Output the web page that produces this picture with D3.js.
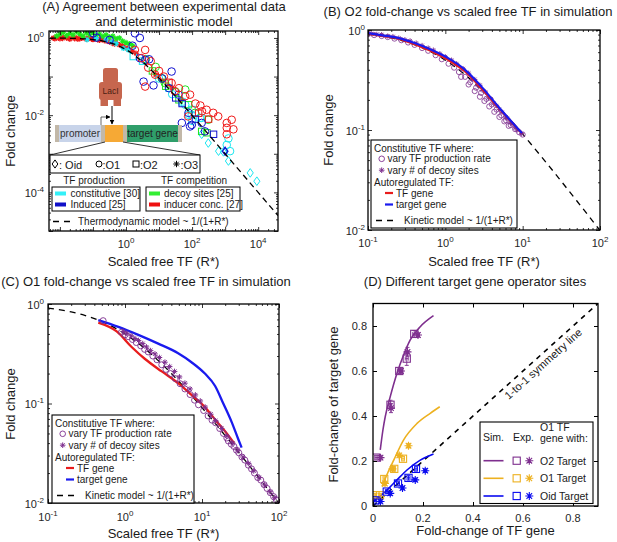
<!DOCTYPE html>
<html>
<head>
<meta charset="utf-8">
<script src="https://cdn.jsdelivr.net/npm/d3@7/dist/d3.min.js"></script>
<style>
html,body{margin:0;padding:0;background:#fff;}
svg{display:block;}
</style>
</head>
<body>
<svg id="chart" width="617" height="542"></svg>
<script>
// ================= DATA =================
// Panel A : experimental data  [R*, fold change]
const aRedStar = [[0.0063,1.0],[0.007,0.95],[0.0079,1.07],[0.009,1.0],[0.01,0.955],[0.012,0.97],[0.0126,1.05],[0.0158,1.0],[0.018,0.98],[0.02,0.93],[0.025,1.05],[0.028,0.96],[0.0316,1.0],[0.035,0.93],[0.04,0.955],[0.045,0.98],[0.05,1.02],[0.063,0.93],[0.07,0.97],[0.079,1.0],[0.09,0.95],[0.1,0.91],[0.11,0.98],[0.126,0.955],[0.14,0.9],[0.158,0.87],[0.18,0.93],[0.2,0.91],[0.22,0.86],[0.25,0.83],[0.28,0.85],[0.316,0.79],[0.35,0.8],[0.4,0.72],[0.45,0.7],[0.5,0.76],[0.63,0.66],[0.79,0.63],[1.0,0.55],[1.26,0.5],[1.58,0.44],[2.0,0.4],[7.9,0.11],[12.6,0.079],[25,0.05],[50,0.025]];
const aRedCircle = [[1.86,0.49],[3.8,0.49],[2.95,0.30],[4.7,0.17],[3.8,0.055],[7.6,0.112],[24,0.068],[30,0.042],[62,0.031],[87,0.034],[275,0.0138],[437,0.0115],[617,0.0093],[1120,0.0063],[1580,0.0076],[1120,0.0047],[1780,0.0043],[1120,0.0032],[76,0.0093],[10,0.14],[14,0.1],[40,0.05],[126,0.02],[178,0.0178],[5.6,0.25],[200,0.0126]];
const aRedSquare = [[20,0.071],[158,0.0112],[316,0.0079]];
const aBlueCircle = [[0.102,1.32],[0.129,1.02],[1.86,1.32],[2.63,1.0],[3.8,0.27],[2.63,0.30],[3.4,0.074],[6.8,0.059],[24,0.135],[39,0.034],[78,0.0115],[98,0.0056],[195,0.0063],[245,0.0038],[49,0.0063],[87,0.0051],[0.32,0.89],[1.58,0.63],[5.0,0.28],[12.6,0.089],[20,0.05]];
const aBlueSquare = [[447,0.0032],[32,0.028],[126,0.0079],[50,0.02]];
const aBlueDiamond = [[1000,0.00117]];
const aGreenStar = [[0.0079,1.12],[0.01,1.26],[0.0126,1.41],[0.0158,1.15],[0.02,1.32],[0.025,1.2],[0.0316,1.45],[0.04,1.26],[0.05,1.12],[0.063,1.35],[0.079,1.2],[0.1,1.38],[0.126,1.15],[0.158,1.26],[0.2,1.1],[0.25,1.2],[0.316,1.05],[0.4,1.12],[0.5,0.955],[0.63,1.0],[0.79,0.83],[1.0,0.76],[1.26,0.71],[1.58,0.63]];
const aGreenCircle = [[12,0.091],[15,0.068],[62,0.046],[123,0.0115],[309,0.0076],[7.9,0.178],[32,0.04],[4,0.28]];
const aGreenSquare = [[78,0.0186],[16,0.056],[195,0.0038],[282,0.0035],[40,0.025],[6.3,0.14]];
const aCyanStar = [[0.37,0.79],[0.83,0.54],[1.17,0.49],[0.25,0.89],[0.5,0.71],[0.126,0.955],[0.066,0.9]];
const aCyanSquare = [[1.66,0.33],[3.16,0.25],[20,0.05],[50,0.022],[100,0.014]];
const aCyanCircle = [[62,0.0186],[98,0.0102],[195,0.0085],[78,0.0102],[174,0.0085],[1120,0.0017],[1410,0.00117],[10,0.089],[25,0.035],[100,0.0071],[1260,0.0025]];
const aCyanDiamond = [[195,0.0032],[309,0.0019],[631,0.00117],[1260,0.00065],[5750,0.00032],[9120,0.000195],[890,0.00112]];

// model curve ~ 1/(1+R*)
const modelR  = [0.005,0.01,0.02,0.05,0.1,0.2,0.3,0.5,0.7,1,1.5,2,3,5,7,10,20,50,100,300,1000,3000,10000,40000];
const modelFC = [0.995,0.99,0.98,0.952,0.909,0.833,0.769,0.667,0.588,0.5,0.4,0.333,0.25,0.167,0.125,0.0909,0.0476,0.0196,0.0099,0.00332,0.000999,0.000333,0.0001,0.000025];

// Panel B : O2 simulation
const bCircle = [[0.1,0.91],[0.12,0.89],[0.15,0.87],[0.18,0.85],[0.22,0.82],[0.27,0.79],[0.33,0.75],[0.4,0.71],[0.5,0.66],[0.6,0.62],[0.75,0.56],[0.9,0.51],[1.1,0.46],[1.3,0.42],[1.5,0.38],[1.8,0.34],[2.1,0.30],[2.5,0.265],[2.9,0.235],[3.4,0.205],[4.0,0.18],[4.6,0.16],[5.3,0.14],[6.1,0.125],[7.0,0.112],[8.0,0.102],[9.0,0.095],[10,0.09],[1.6,0.34],[2.0,0.285],[2.4,0.245],[2.8,0.215],[3.2,0.195],[3.7,0.172],[4.3,0.152],[5.0,0.135],[5.8,0.122],[6.6,0.11]];
const bStar = [[0.1,0.93],[0.11,0.92],[0.13,0.905],[0.15,0.9],[0.18,0.87],[0.21,0.86],[0.25,0.83],[0.3,0.8],[0.35,0.78],[0.42,0.74],[0.5,0.7],[0.6,0.66],[0.7,0.63],[0.85,0.58],[1.0,0.54],[1.2,0.5],[1.4,0.46],[1.7,0.41],[2.0,0.37],[2.4,0.32],[2.8,0.28],[3.3,0.24],[3.9,0.205],[4.6,0.175],[5.4,0.15],[6.3,0.13],[7.3,0.115],[8.5,0.1],[9.7,0.092],[2.2,0.32],[2.6,0.28],[3.0,0.25],[3.6,0.21],[4.2,0.185],[5.0,0.16],[6.0,0.135],[7.0,0.118],[8.0,0.105]];
const bTFgene = [[0.1,0.92],[0.16,0.87],[0.25,0.82],[0.4,0.72],[0.67,0.61],[1.1,0.5],[1.8,0.385],[2.95,0.26],[4.85,0.168],[7.2,0.12],[9.8,0.092]];
const bTarget = [[0.1,0.93],[0.16,0.88],[0.25,0.83],[0.4,0.74],[0.67,0.63],[1.1,0.52],[1.8,0.40],[2.95,0.27],[4.85,0.171],[7.2,0.121],[9.8,0.093]];

// Panel C : O1 simulation
const cCircle = [[0.52,0.68],[0.9,0.52],[1.0,0.49],[1.1,0.47],[1.25,0.44],[1.4,0.41],[1.6,0.38],[1.8,0.35],[2.0,0.33],[2.3,0.3],[2.6,0.275],[3.0,0.245],[3.4,0.22],[3.9,0.2],[4.5,0.178],[5.2,0.158],[6.0,0.14],[7.0,0.123],[8.0,0.108],[9.0,0.097],[10.5,0.085],[12,0.075],[13.5,0.068],[15,0.064],[17,0.056],[19,0.05],[21,0.045],[22,0.042],[24,0.039],[26,0.037],[28,0.034],[30,0.032],[33,0.029],[36,0.027],[40,0.024],[44,0.022],[48,0.02],[53,0.018],[58,0.017],[64,0.0153],[70,0.014],[77,0.0127],[85,0.0116],[92,0.0108]];
const cStar = [[0.95,0.53],[1.05,0.51],[1.2,0.48],[1.35,0.45],[1.5,0.43],[1.7,0.4],[1.9,0.37],[2.15,0.34],[2.45,0.315],[2.8,0.29],[3.3,0.26],[3.8,0.235],[4.4,0.21],[5.1,0.185],[6.0,0.16],[7.0,0.14],[8.2,0.122],[9.5,0.106],[11,0.092],[13,0.078],[15,0.067],[18,0.056],[21,0.047],[25,0.04],[29,0.034],[34,0.029],[40,0.025],[47,0.021],[55,0.018],[65,0.0152],[76,0.013],[88,0.0113]];
const cTFgene = [[0.45,0.65],[0.78,0.53],[1.22,0.37],[1.82,0.28],[3.0,0.21],[4.9,0.16],[7.3,0.122],[10.9,0.092],[15,0.068],[21,0.05],[26,0.04]];
const cTarget = [[0.45,0.69],[0.82,0.59],[1.49,0.49],[2.7,0.40],[4.9,0.32],[7.3,0.26],[10.9,0.20],[14.8,0.15],[18.9,0.10],[24.3,0.065],[29.5,0.044],[32.7,0.036]];

// Panel D : target vs TF gene  [x, y, xErr, yErr]
const dO2Sim  = [[0.029,0.249],[0.04,0.34],[0.049,0.397],[0.069,0.486],[0.096,0.59],[0.122,0.67],[0.149,0.738],[0.189,0.797],[0.242,0.846]];
const dO1Sim  = [[0.036,0.086],[0.06,0.15],[0.083,0.204],[0.122,0.293],[0.176,0.367],[0.229,0.412],[0.267,0.441]];
const dOidSim = [[0.0,0.02],[0.03,0.045],[0.056,0.071],[0.096,0.116],[0.136,0.16],[0.189,0.204],[0.242,0.231]];
const dO2Sq  = [[0.012,0.215,0.005,0.01],[0.07,0.45,0.005,0.02],[0.105,0.6,0.006,0.01],[0.135,0.655,0.006,0.03],[0.165,0.765,0.006,0.015]];
const dO2St  = [[0.03,0.215,0.006,0.01],[0.072,0.435,0.005,0.02],[0.112,0.6,0.006,0.01],[0.138,0.685,0.006,0.02],[0.18,0.76,0.006,0.01]];
const dO1Sq  = [[0.01,0.048,0.005,0.008],[0.028,0.048,0.005,0.008],[0.045,0.12,0.005,0.01],[0.085,0.165,0.005,0.01],[0.12,0.21,0.006,0.01]];
const dO1St  = [[0.048,0.1,0.005,0.01],[0.078,0.165,0.005,0.01],[0.105,0.225,0.006,0.01],[0.142,0.268,0.006,0.01]];
const dOidSq = [[0.01,0.025,0.005,0.006],[0.055,0.064,0.005,0.008],[0.1,0.1,0.006,0.01],[0.142,0.125,0.006,0.01],[0.172,0.165,0.006,0.01]];
const dOidSt = [[0.03,0.02,0.005,0.006],[0.069,0.056,0.005,0.008],[0.118,0.08,0.006,0.008],[0.169,0.116,0.006,0.008],[0.209,0.157,0.006,0.008]];
const oneToOne = [[0,0],[0.9,0.9]];

// tick labels
const aXExp = [0,2,4], aYExp = [0,-2,-4];
const bcXExp = [-1,0,1,2], bcYExp = [0,-1,-2];
const dTicks = [0,0.2,0.4,0.6,0.8];

// ================= DRAWING =================
const FONT = "'Liberation Sans', Arial, Helvetica, sans-serif";
const svg = d3.select("#chart").attr("font-family", FONT);
svg.append("rect").attr("width",617).attr("height",542).attr("fill","#fff");
const defs = svg.append("defs");
const PURPLE = "#7e2f8e", ORANGE = "#edb120";
const TXT = "#1a1a1a";

function clip(id, x, y, w, h){
  defs.append("clipPath").attr("id",id).append("rect").attr("x",x).attr("y",y).attr("width",w).attr("height",h);
}
function mark(g, type, cx, cy, s, color, sw){
  sw = sw || 1;
  let el;
  if (type === "circle") el = g.append("circle").attr("cx",cx).attr("cy",cy).attr("r",s);
  else if (type === "square") el = g.append("rect").attr("x",cx-s).attr("y",cy-s).attr("width",2*s).attr("height",2*s);
  else if (type === "diamond") el = g.append("path").attr("d",`M${cx},${cy-s*1.2}L${cx+s*0.85},${cy}L${cx},${cy+s*1.2}L${cx-s*0.85},${cy}Z`);
  else { const d = s*0.7; el = g.append("path").attr("d",`M${cx-s},${cy}H${cx+s}M${cx},${cy-s}V${cy+s}M${cx-d},${cy-d}L${cx+d},${cy+d}M${cx-d},${cy+d}L${cx+d},${cy-d}`); }
  el.attr("fill","none").attr("stroke",color).attr("stroke-width",sw);
  return el;
}
function logTicks(sc, ks){
  const [a,b] = sc.domain(); const out=[];
  for (let e=Math.floor(Math.log10(a)); e<=Math.ceil(Math.log10(b)); e++)
    for (const k of ks){ const v=k*Math.pow(10,e); if (v>=a*0.999 && v<=b*1.001) out.push(v); }
  return out;
}
function frame(g, x, y, xMaj, xMin, yMaj, yMin){
  const [x0,x1] = x.range(), [yb,yt] = y.range();
  const ax = (fn, sc, vals, len, tx, ty) => {
    const s = g.append("g").attr("transform",`translate(${tx},${ty})`)
      .call(fn(sc).tickValues(vals).tickSize(len).tickSizeOuter(0).tickFormat(""));
    s.select(".domain").remove();
    s.selectAll("line").attr("stroke","#000").attr("stroke-width",0.8);
  };
  [[xMaj,4],[xMin,2]].forEach(([v,l])=>{ ax(d3.axisBottom,x,v,-l,0,yb); ax(d3.axisTop,x,v,-l,0,yt); });
  [[yMaj,4],[yMin,2]].forEach(([v,l])=>{ ax(d3.axisLeft,y,v,-l,x0,0); ax(d3.axisRight,y,v,-l,x1,0); });
  g.append("rect").attr("x",x0).attr("y",yt).attr("width",x1-x0).attr("height",yb-yt)
    .attr("fill","none").attr("stroke","#000").attr("stroke-width",1.3);
}
function powLabel(g, px, py, e, anchor){
  const t = g.append("text").attr("x",px).attr("y",py).attr("text-anchor",anchor).attr("font-size",11).attr("fill","#262626");
  t.append("tspan").text("10");
  t.append("tspan").attr("dy",-5).attr("font-size",8).text(String(e));
}
function txt(g, x, y, s, size, anchor, extra){
  const t = g.append("text").attr("x",x).attr("y",y).attr("font-size",size).attr("text-anchor",anchor||"start").attr("fill",TXT).text(s);
  if (extra) t.attr("transform",extra);
  return t;
}
function vtxt(g, x, y, s, size){
  return g.append("text").attr("transform",`translate(${x},${y}) rotate(-90)`).attr("text-anchor","middle").attr("font-size",size).attr("fill",TXT).text(s);
}
const modelPts = modelR.map((r,i)=>[r, modelFC[i]]);

// ---------------- Panel A ----------------
{
  const g = svg.append("g");
  const x = d3.scaleLog().domain([Math.pow(10,-2.33), Math.pow(10,4.6)]).range([49,278]);
  const y = d3.scaleLog().domain([1e-5, Math.pow(10,0.18)]).range([231,31]);
  clip("clipA",49,31,229,200);
  const p = g.append("g").attr("clip-path","url(#clipA)");
  const draw = (arr, type, s, col, sw) => arr.forEach(d => mark(p, type, x(d[0]), y(d[1]), s, col, sw));
  const CY="#19e6f0", BL="#1010d0", GR="#1ee61e", RD="#f01818";
  draw(aRedStar,"star",2.8,RD,1.2);
  draw(aGreenStar,"star",2.8,GR,1.2);
  draw(aCyanStar,"star",2.8,CY,1.2);
  draw(aCyanSquare,"square",3.2,CY,1);
  draw(aCyanCircle,"circle",3.8,CY,1);
  draw(aCyanDiamond,"diamond",3.6,CY,1);
  draw(aGreenCircle,"circle",3.8,GR,1);
  draw(aGreenSquare,"square",3.2,GR,1);
  draw(aRedSquare,"square",3.2,RD,1);
  draw(aBlueSquare,"square",3.2,BL,1);
  draw(aBlueDiamond,"diamond",3.2,BL,1.4);
  draw(aBlueCircle,"circle",3.8,BL,1);
  draw(aRedCircle,"circle",3.8,RD,1);
  p.append("path").datum(modelPts)
    .attr("d", d3.line().x(d=>x(d[0])).y(d=>y(d[1])).curve(d3.curveMonotoneX))
    .attr("fill","none").attr("stroke","#000").attr("stroke-width",1.3).attr("stroke-dasharray","6,4");

  frame(g, x, y, logTicks(x,[1]), logTicks(x,[2,3,4,5,6,7,8,9]), logTicks(y,[1]), logTicks(y,[2,3,4,5,6,7,8,9]));
  aXExp.forEach(e => powLabel(g, x(Math.pow(10,e)), 248, e, "middle"));
  aYExp.forEach(e => powLabel(g, 44, y(Math.pow(10,e))+4.5, e, "end"));

  // schematic
  const L = "#c6664e";
  g.append("rect").attr("x",103).attr("y",68).attr("width",15).attr("height",15).attr("rx",2.5).attr("fill",L);
  g.append("rect").attr("x",99).attr("y",82).attr("width",23).attr("height",18).attr("rx",3).attr("fill",L);
  g.append("rect").attr("x",100.5).attr("y",99).attr("width",7.5).attr("height",7).attr("fill",L);
  g.append("rect").attr("x",113.5).attr("y",99).attr("width",7.5).attr("height",7).attr("fill",L);
  txt(g,110.5,94,"LacI",8.5,"middle").attr("fill","#4a1e12");
  defs.append("marker").attr("id","arr").attr("viewBox","0 0 10 10").attr("refX",9).attr("refY",5)
    .attr("markerWidth",5).attr("markerHeight",5).attr("orient","auto")
    .append("path").attr("d","M0,0L10,5L0,10Z").attr("fill","#000");
  g.append("line").attr("x1",112).attr("y1",106).attr("x2",112).attr("y2",124).attr("stroke","#000").attr("stroke-width",1).attr("marker-end","url(#arr)");
  g.append("rect").attr("x",55).attr("y",125).attr("width",127).attr("height",17).attr("fill","#c2b8a8");
  g.append("rect").attr("x",59).attr("y",125).attr("width",42).attr("height",17).attr("fill","#c8d4ea");
  g.append("rect").attr("x",105).attr("y",125).attr("width",18).attr("height",17).attr("fill","#f6a935");
  g.append("rect").attr("x",127).attr("y",125).attr("width",51).attr("height",17).attr("fill","#2f9e6a");
  txt(g,80,137,"promoter",10,"middle").attr("fill","#333");
  txt(g,152.5,137,"target gene",10,"middle").attr("fill","#222");
  g.append("path").attr("d","M101,125V117H110").attr("fill","none").attr("stroke","#555").attr("stroke-width",0.9).attr("marker-end","url(#arr)");
  g.append("path").attr("d","M105,142L50,155M123,142L200,155").attr("fill","none").attr("stroke","#333").attr("stroke-width",1);
  // operator legend box
  g.append("rect").attr("x",50).attr("y",155).attr("width",150).attr("height",18).attr("fill","#fff").attr("stroke","#000").attr("stroke-width",1);
  mark(g,"diamond",55,164,3.4,"#000",1); txt(g,59,168.5,": Oid",11);
  mark(g,"circle",99,164,3,"#000",1); txt(g,102.5,168.5,":O1",11);
  mark(g,"square",136,164,3,"#000",1); txt(g,140,168.5,":O2",11);
  mark(g,"star",176.5,164,3.2,"#000",1); txt(g,180.5,168.5,":O3",11);
  txt(g,94,184,"TF production",10,"middle");
  txt(g,194,184,"TF competition",10,"middle");
  g.append("rect").attr("x",52).attr("y",187).attr("width",88).attr("height",24).attr("fill","#fff").attr("stroke","#000").attr("stroke-width",1);
  g.append("rect").attr("x",146).attr("y",187).attr("width",94).attr("height",24).attr("fill","#fff").attr("stroke","#000").attr("stroke-width",1);
  const sw = (xx,yy,c) => g.append("rect").attr("x",xx).attr("y",yy-2).attr("width",11).attr("height",4).attr("fill",c);
  sw(55,193.5,"#33f0f8"); txt(g,70.5,197,"constitutive [30]",10);
  sw(55,204.5,"#1010c8"); txt(g,70.5,208,"Induced [25]",10);
  sw(149,193.5,"#33ee33"); txt(g,164,197,"decoy sites [25]",10);
  sw(149,204.5,"#ee1111"); txt(g,164,208,"inducer conc. [27]",10);
  g.append("line").attr("x1",53).attr("x2",74).attr("y1",221.5).attr("y2",221.5).attr("stroke","#000").attr("stroke-width",1.3).attr("stroke-dasharray","6,5");
  txt(g,78,225,"Thermodynamic model ~ 1/(1+R*)",10);

  txt(g,164,11,"(A) Agreement between experimental data",13,"middle");
  txt(g,164,25.5,"and deterministic model",13,"middle");
  vtxt(g,15,131,"Fold change",13);
  txt(g,163.5,266,"Scaled free TF (R*)",13,"middle");
}

function simLegend(g, bx, by, w){
  g.append("rect").attr("x",bx).attr("y",by).attr("width",w).attr("height",88).attr("fill","#fff").attr("stroke","#000").attr("stroke-width",1.1);
  const F = 10;
  txt(g,bx+3,by+12.2,"Constitutive TF where:",F);
  mark(g,"circle",bx+10.7,by+18.8,2.8,PURPLE,0.9); txt(g,bx+16.5,by+22.3,"vary TF production rate",F);
  mark(g,"star",bx+10.7,by+30.2,2.8,PURPLE,1); txt(g,bx+16.5,by+33.8,"vary # of decoy sites",F);
  txt(g,bx+3,by+45.6,"Autoregulated TF:",F);
  g.append("line").attr("x1",bx+14).attr("x2",bx+22).attr("y1",by+53).attr("y2",by+53).attr("stroke","#e81c1c").attr("stroke-width",2.2);
  txt(g,bx+25,by+56.6,"TF gene",F);
  g.append("line").attr("x1",bx+14).attr("x2",bx+22).attr("y1",by+64.5).attr("y2",by+64.5).attr("stroke","#1a1aee").attr("stroke-width",2.2);
  txt(g,bx+25,by+68.1,"target gene",F);
  g.append("line").attr("x1",bx+5).attr("x2",bx+26).attr("y1",by+80.5).attr("y2",by+80.5).attr("stroke","#000").attr("stroke-width",1.3).attr("stroke-dasharray","6,5");
  txt(g,bx+33,by+84,"Kinetic model ~ 1/(1+R*)",F);
}

// ---------------- Panel B ----------------
{
  const g = svg.append("g");
  const x = d3.scaleLog().domain([0.1,100]).range([368,600]);
  const y = d3.scaleLog().domain([0.01,1]).range([230,30]);
  clip("clipB",368,30,232,200);
  const p = g.append("g").attr("clip-path","url(#clipB)");
  const ln = d3.line().x(d=>x(d[0])).y(d=>y(d[1])).curve(d3.curveMonotoneX);
  p.append("path").datum(modelPts.filter(d=>d[0]>=0.1)).attr("d",ln).attr("fill","none").attr("stroke","#000").attr("stroke-width",1.3).attr("stroke-dasharray","6,5");
  bCircle.forEach(d=>mark(p,"circle",x(d[0]),y(d[1]),2.6,PURPLE,0.8));
  bStar.forEach(d=>mark(p,"star",x(d[0]),y(d[1]),2.6,PURPLE,0.9));
  p.append("path").datum(bTFgene).attr("d",ln).attr("fill","none").attr("stroke","#e81c1c").attr("stroke-width",2.2);
  p.append("path").datum(bTarget).attr("d",ln).attr("fill","none").attr("stroke","#1a1aee").attr("stroke-width",2.2);
  frame(g, x, y, logTicks(x,[1]), logTicks(x,[2,3,4,5,6,7,8,9]), logTicks(y,[1]), logTicks(y,[2,3,4,5,6,7,8,9]));
  bcXExp.forEach(e => powLabel(g, x(Math.pow(10,e)), 247, e, "middle"));
  bcYExp.forEach(e => powLabel(g, 365, y(Math.pow(10,e))+4.5, e, "end"));
  simLegend(g, 371, 140, 146);
  txt(g,468,16,"(B) O2 fold-change vs scaled free TF in simulation",13,"middle");
  vtxt(g,333,130,"Fold change",13);
  txt(g,484,266,"Scaled free TF (R*)",13,"middle");
}

// ---------------- Panel C ----------------
{
  const g = svg.append("g");
  const x = d3.scaleLog().domain([0.1,100]).range([48,279]);
  const y = d3.scaleLog().domain([0.01,1]).range([503,304]);
  clip("clipC",48,304,231,199);
  const p = g.append("g").attr("clip-path","url(#clipC)");
  const ln = d3.line().x(d=>x(d[0])).y(d=>y(d[1])).curve(d3.curveMonotoneX);
  p.append("path").datum(modelPts.filter(d=>d[0]>=0.1)).attr("d",ln).attr("fill","none").attr("stroke","#000").attr("stroke-width",1.3).attr("stroke-dasharray","6,5");
  p.append("path").datum(cTFgene).attr("d",ln).attr("fill","none").attr("stroke","#e81c1c").attr("stroke-width",2.3);
  p.append("path").datum(cTarget).attr("d",ln).attr("fill","none").attr("stroke","#1a1aee").attr("stroke-width",2.3);
  cCircle.forEach(d=>mark(p,"circle",x(d[0]),y(d[1]),3,PURPLE,0.9));
  cStar.forEach(d=>mark(p,"star",x(d[0]),y(d[1]),2.8,PURPLE,1));
  frame(g, x, y, logTicks(x,[1]), logTicks(x,[2,3,4,5,6,7,8,9]), logTicks(y,[1]), logTicks(y,[2,3,4,5,6,7,8,9]));
  bcXExp.forEach(e => powLabel(g, x(Math.pow(10,e)), 520.5, e, "middle"));
  bcYExp.forEach(e => powLabel(g, 44, y(Math.pow(10,e))+4.5, e, "end"));
  simLegend(g, 52, 415, 142);
  txt(g,146,286,"(C) O1 fold-change vs scaled free TF in simulation",13,"middle");
  vtxt(g,15,404,"Fold change",13);
  txt(g,163.5,538,"Scaled free TF (R*)",13,"middle");
}

// ---------------- Panel D ----------------
{
  const g = svg.append("g");
  const x = d3.scaleLinear().domain([0,0.9]).range([373,598]);
  const y = d3.scaleLinear().domain([0,0.9]).range([506,303.5]);
  clip("clipD",373,303.5,225,202.5);
  const p = g.append("g").attr("clip-path","url(#clipD)");
  const ln = d3.line().x(d=>x(d[0])).y(d=>y(d[1]));
  p.append("path").datum(oneToOne).attr("d",ln).attr("fill","none").attr("stroke","#000").attr("stroke-width",1.6).attr("stroke-dasharray","5,5");
  const sl = d3.line().x(d=>x(d[0])).y(d=>y(d[1])).curve(d3.curveMonotoneX);
  const BLUE = "#0a0af0";
  [[dO2Sim,PURPLE],[dO1Sim,ORANGE],[dOidSim,BLUE]].forEach(([arr,c]) =>
    p.append("path").datum(arr).attr("d",sl).attr("fill","none").attr("stroke",c).attr("stroke-width",1.6));
  const errs = (arr, type, c) => arr.forEach(d => {
    const cx = x(d[0]), cy = y(d[1]);
    const ex = x(d[0]+d[2]) - cx, ey = cy - y(d[1]+d[3]);
    p.append("path").attr("d",`M${cx},${cy-ey}V${cy+ey}M${cx-2},${cy-ey}H${cx+2}M${cx-2},${cy+ey}H${cx+2}M${cx-ex},${cy}H${cx+ex}M${cx-ex},${cy-2}V${cy+2}M${cx+ex},${cy-2}V${cy+2}`)
      .attr("fill","none").attr("stroke",c).attr("stroke-width",0.9);
    mark(p, type, cx, cy, type==="square"?3.6:4, c, 1.1);
  });
  errs(dO2Sq,"square",PURPLE); errs(dO2St,"star",PURPLE);
  errs(dO1Sq,"square",ORANGE); errs(dO1St,"star",ORANGE);
  errs(dOidSq,"square",BLUE); errs(dOidSt,"star",BLUE);

  const tk = (fn, tr) => g.append("g").attr("transform",tr).call(fn.tickValues(dTicks).tickSize(-4).tickSizeOuter(0).tickFormat(""))
    .call(s=>{s.select(".domain").remove(); s.selectAll("line").attr("stroke","#000");});
  tk(d3.axisBottom(x),"translate(0,506)");
  tk(d3.axisTop(x),"translate(0,303.5)");
  tk(d3.axisLeft(y),"translate(373,0)");
  tk(d3.axisRight(y),"translate(598,0)");
  g.append("rect").attr("x",373).attr("y",303.5).attr("width",225).attr("height",202.5).attr("fill","none").attr("stroke","#000").attr("stroke-width",1.3);
  dTicks.forEach(v => { txt(g, x(v), 522, v===0?"0":String(v), 11, "middle").attr("fill","#262626");
                        txt(g, 367, y(v)+4, v===0?"0":String(v), 11, "end").attr("fill","#262626"); });

  // legend
  g.append("rect").attr("x",480).attr("y",422).attr("width",113).attr("height",81.5).attr("fill","#fff").attr("stroke","#000").attr("stroke-width",1.1);
  txt(g,483,440.5,"Sim.",10.5); txt(g,513,440.5,"Exp.",10.5);
  txt(g,540,430.5,"O1 TF",10.5); txt(g,540,442,"gene with:",10.5);
  [["O2 Target",PURPLE,460.7],["O1 Target",ORANGE,478.3],["Oid Target",BLUE,496]].forEach(([s,c,yy])=>{
    g.append("line").attr("x1",483.5).attr("x2",503.5).attr("y1",yy).attr("y2",yy).attr("stroke",c).attr("stroke-width",1.6);
    mark(g,"square",516.7,yy,3.6,c,1.1);
    mark(g,"star",529.3,yy,4,c,1.1);
    txt(g,540,yy+3.8,s,10.5);
  });
  // rotated 1-to-1 text, just below-right of the dashed line
  const ang = Math.atan2(y(0)-y(1), x(1)-x(0)) * 180 / Math.PI;
  const tx = x(0.659) + 8, ty = y(0.659) + 9;
  txt(g,0,0,"1-to-1 symmetry line",11,"middle",`translate(${tx},${ty}) rotate(${-ang})`);

  txt(g,475,286,"(D) Different target gene operator sites",13,"middle");
  vtxt(g,338,404.5,"Fold-change of target gene",13);
  txt(g,485.5,535,"Fold-change of TF gene",13,"middle");
}
</script>
</body>
</html>
